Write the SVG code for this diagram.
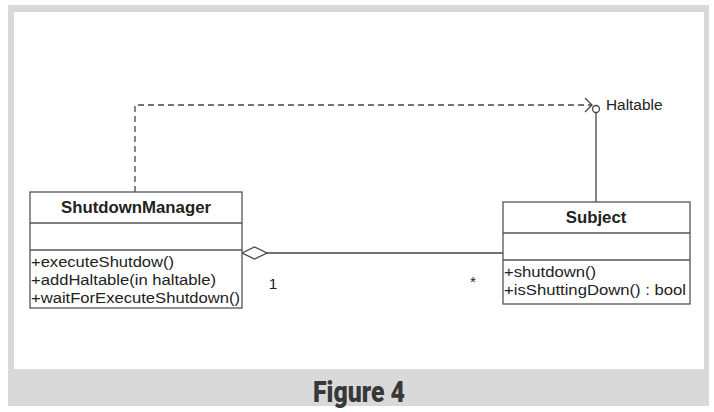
<svg xmlns="http://www.w3.org/2000/svg" width="714" height="412" viewBox="0 0 714 412">
<style>
.box{fill:#fff;stroke:#555;stroke-width:1.3}
.sep{stroke:#555;stroke-width:1.3}
.ln{fill:none;stroke:#444;stroke-width:1.3}
.t{font-family:"Liberation Sans",Arial,sans-serif;font-size:15.4px;fill:#222}
.b{font-family:"Liberation Sans",Arial,sans-serif;font-size:16.8px;font-weight:bold;fill:#222}
.cap{font-family:Roboto,"Liberation Sans",sans-serif;font-size:30px;font-weight:900;fill:#383838}
</style>
<rect x="0" y="0" width="714" height="412" fill="#fff"/>
<rect x="8" y="5" width="701" height="401" fill="#d9d9d9"/>
<rect x="14" y="12" width="690" height="357" fill="#fff"/>
<text class="cap" x="359" y="402" text-anchor="middle" textLength="92" lengthAdjust="spacingAndGlyphs">Figure 4</text>

<g id="connectors">
  <path class="ln" d="M135,192 V105 H592" stroke-dasharray="6,4"/>
  <path class="ln" d="M585,98 L592,105 L585,112"/>
  <line class="ln" x1="596" y1="112.5" x2="596" y2="202"/>
  <circle cx="596" cy="109" r="3.5" fill="#fff" stroke="#444" stroke-width="1.3"/>
  <line class="ln" x1="267" y1="253" x2="503" y2="253"/>
  <path d="M242,253 L254.5,247 L267,253 L254.5,259 Z" fill="#fff" stroke="#444" stroke-width="1.3"/>
  <text class="t" x="273" y="289" text-anchor="middle" font-size="15">1</text>
  <text class="t" x="473" y="287" text-anchor="middle" font-size="15">*</text>
  <text class="t" x="606" y="110" font-size="16.4">Haltable</text>
</g>

<g id="ShutdownManager">
  <rect class="box" x="30" y="192" width="212" height="116"/>
  <line class="sep" x1="30" y1="223" x2="242" y2="223"/>
  <line class="sep" x1="30" y1="250" x2="242" y2="250"/>
  <text class="b" x="136" y="213" text-anchor="middle">ShutdownManager</text>
  <text class="t" x="31" y="267" textLength="143" lengthAdjust="spacingAndGlyphs">+executeShutdow()</text>
  <text class="t" x="31" y="285" textLength="185" lengthAdjust="spacingAndGlyphs">+addHaltable(in haltable)</text>
  <text class="t" x="31" y="303" textLength="209" lengthAdjust="spacingAndGlyphs">+waitForExecuteShutdown()</text>
</g>

<g id="Subject">
  <rect class="box" x="503" y="202" width="187" height="102"/>
  <line class="sep" x1="503" y1="233" x2="690" y2="233"/>
  <line class="sep" x1="503" y1="260" x2="690" y2="260"/>
  <text class="b" x="596" y="223" text-anchor="middle">Subject</text>
  <text class="t" x="504" y="277" textLength="92" lengthAdjust="spacingAndGlyphs">+shutdown()</text>
  <text class="t" x="504" y="295" textLength="182" lengthAdjust="spacingAndGlyphs">+isShuttingDown() : bool</text>
</g>
</svg>
